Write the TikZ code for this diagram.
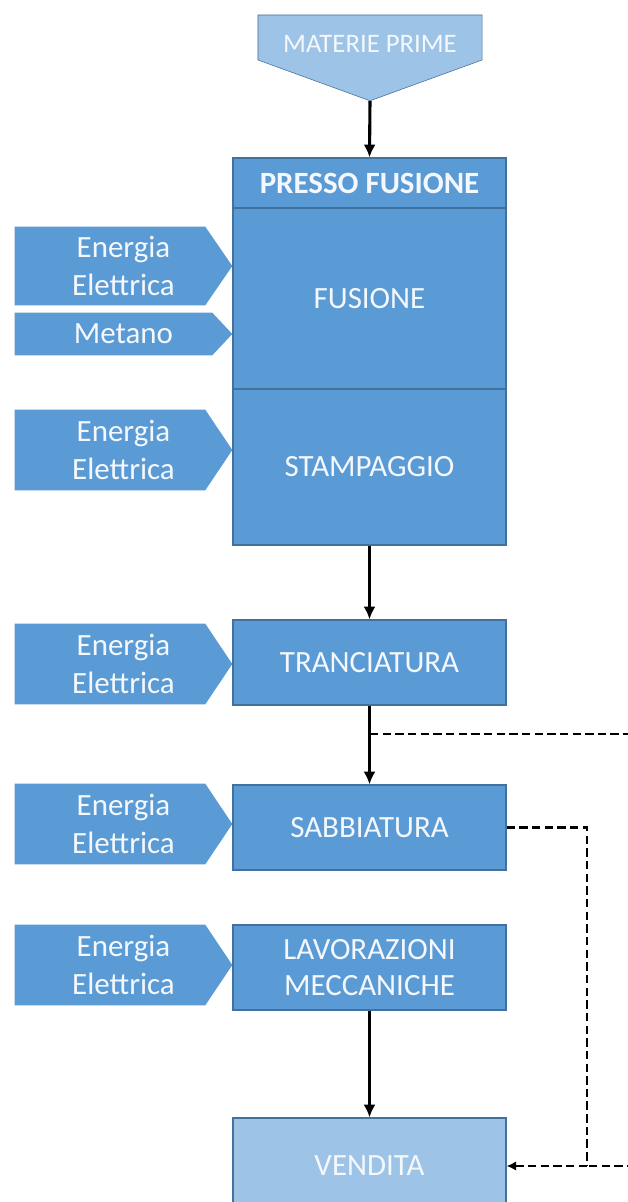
\documentclass[tikz,border=0pt]{standalone}
\usepackage{fontspec}
\setmainfont{Carlito}
\usepackage{tikz}
\usetikzlibrary{arrows.meta,positioning,calc,shapes.symbols}
\definecolor{boxblue}{HTML}{5B9BD5}
\definecolor{boxedge}{HTML}{41719C}
\definecolor{lightblue}{HTML}{9DC3E6}
\definecolor{txtwhite}{HTML}{F4F8FC}
\pgfdeclarelayer{background}
\pgfsetlayers{background,main}

\begin{document}
\begin{tikzpicture}[
			x=0.025cm, y=-0.025cm,
			txt/.style={text=txtwhite, font=\fontsize{22}{27}\selectfont},
			block/.style={draw=boxedge, fill=boxblue, line width=0.8pt, minimum width=6.825cm, align=center,
				txt, inner sep=0pt},
			endblock/.style={block, fill=lightblue},
			input/.style={rectangle, minimum width=5.425cm, align=center, txt, inner sep=0pt},
			line/.style={-{Latex[length=3.2mm,width=3mm]}, line width=2.2pt},
			dline/.style={line width=1.8pt, dash pattern=on 6pt off 3pt}
			]
			\useasboundingbox (0,0) rectangle (628,1202);
			\clip (0,0) rectangle (628,1202);
			% materie prime
			\node[signal, signal to=south, signal pointer angle=140, fill=lightblue, draw=boxedge, line width=0.4pt,
				minimum width=5.6cm, minimum height=1.125cm, inner sep=0pt] (mp) at (370,37.5) {};
			\node[text=txtwhite, font=\fontsize{19}{22}\selectfont] (mptxt) at (370,44) {MATERIE PRIME};
			% presso fusione
			\node[block, minimum height=1.25cm, font=\bfseries\fontsize{22}{27}\selectfont] (pf) at (369.5,183) {PRESSO FUSIONE};
			\node[block, minimum height=4.525cm] (fus) at (369.5,298.5) {FUSIONE};
			\node[block, minimum height=3.9cm] (stamp) at (369.5,467) {STAMPAGGIO};
			\node[block, minimum height=2.125cm] (tranc) at (369.5,662.5) {TRANCIATURA};
			\node[block, minimum height=2.125cm] (sabb) at (369.5,827.5) {SABBIATURA};
			\node[block, minimum height=2.125cm, font=\fontsize{22}{25}\selectfont] (lav) at (369.5,967.5) {LAVORAZIONI\\MECCANICHE};
			\node[endblock, minimum height=2.4cm] (vend) at (369.5,1166) {VENDITA};
			% ingressi
			\node[input, minimum height=1.95cm] (e1) at (123.5,266) {Energia\\Elettrica};
			\node[input, minimum height=1.05cm] (met) at (123.5,334) {Metano};
			\node[input, minimum height=2cm] (e2) at (123.5,450) {Energia\\Elettrica};
			\node[input, minimum height=2cm] (e3) at (123.5,664) {Energia\\Elettrica};
			\node[input, minimum height=2cm] (e4) at (123.5,824) {Energia\\Elettrica};
			\node[input, minimum height=2cm] (e5) at (123.5,965) {Energia\\Elettrica};
			\begin{pgfonlayer}{background}
				\foreach \n/\d in {e1/27,met/20,e2/27,e3/27,e4/27,e5/27}
					\fill[boxblue] (\n.north west) -- ($(\n.north east)+(-\d,0)$) -- (\n.east)
						-- ($(\n.south east)+(-\d,0)$) -- (\n.south west) -- cycle;
			\end{pgfonlayer}
			% flusso
			\draw[line] (mp.south) -- (pf.north);
			\draw[line] (stamp.south) -- (tranc.north);
			\draw[line] (tranc.south) -- (sabb.north);
			\draw[line] (lav.south) -- (vend.north);
			% scarti
			\coordinate (br) at (370,734);
			\coordinate (far) at (660,734);
			\coordinate (ret) at (587,1166);
			\draw[dline] (br) -- (far) |- (ret);
			\draw[dline] (sabb.east) -| (ret);
			\draw[dline, -{Latex[length=2.4mm,width=2.4mm]}] (ret) -- (vend.east);
		\end{tikzpicture}
\end{document}
